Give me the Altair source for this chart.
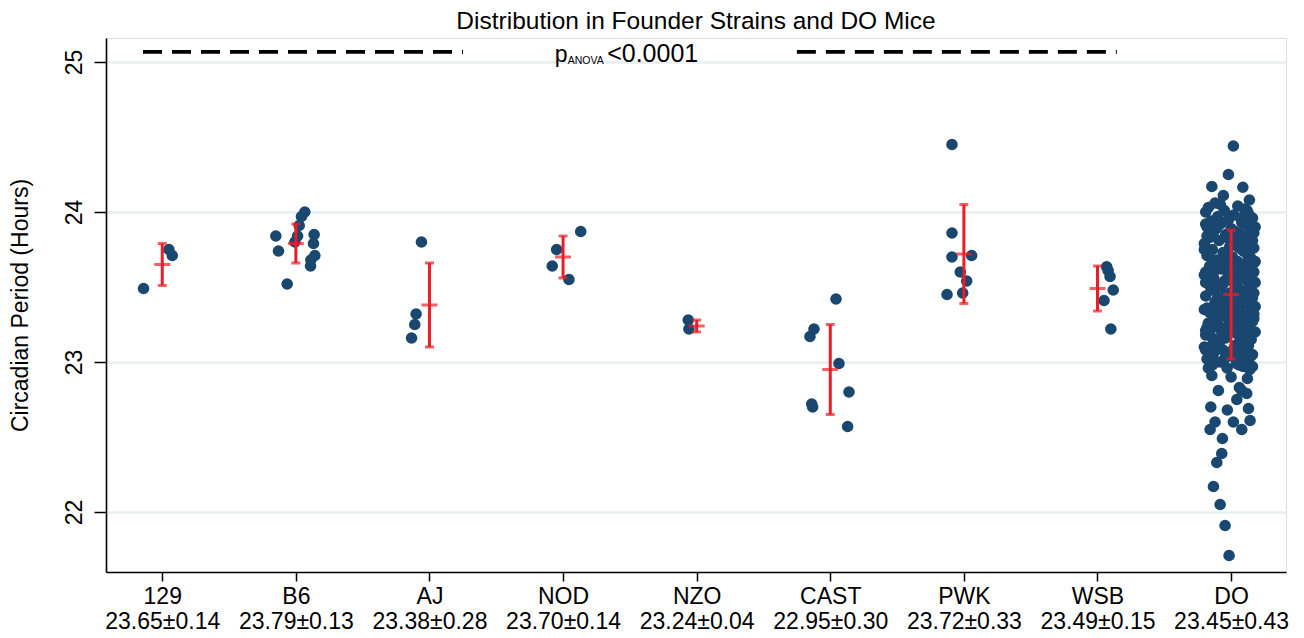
import json
import altair as alt
import pandas as pd

# ---------------- data ----------------
groups = ["129", "B6", "AJ", "NOD", "NZO", "CAST", "PWK", "WSB", "DO"]
means = [23.65, 23.79, 23.38, 23.70, 23.24, 22.95, 23.72, 23.49, 23.45]
sds = [0.14, 0.13, 0.28, 0.14, 0.04, 0.30, 0.33, 0.15, 0.43]

# circadian periods (hours) and horizontal jitter (in category units)
v_129 = [23.49, 23.75, 23.71]
j_129 = [-0.14, 0.05, 0.075]

v_b6 = [23.84, 23.74, 23.52, 24.00, 23.97, 23.91, 23.84, 23.80, 23.85, 23.79, 23.71, 23.68, 23.64]
j_b6 = [-0.15, -0.13, -0.065, 0.067, 0.042, 0.025, 0.013, -0.007, 0.137, 0.132, 0.142, 0.112, 0.11]

v_aj = [23.80, 23.32, 23.25, 23.16]
j_aj = [-0.06, -0.10, -0.11, -0.134]

v_nod = [23.87, 23.75, 23.64, 23.55]
j_nod = [0.132, -0.048, -0.081, 0.044]

v_nzo = [23.28, 23.22]
j_nzo = [-0.063, -0.058]

v_cast = [23.42, 23.22, 23.17, 22.99, 22.80, 22.72, 22.70, 22.57]
j_cast = [0.043, -0.122, -0.152, 0.065, 0.14, -0.139, -0.132, 0.13]

v_pwk = [24.45, 23.86, 23.70, 23.71, 23.60, 23.54, 23.45, 23.46]
j_pwk = [-0.089, -0.089, -0.089, 0.058, -0.027, 0.021, -0.126, -0.009]

v_wsb = [23.635, 23.61, 23.57, 23.48, 23.41, 23.22]
j_wsb = [0.069, 0.08, 0.094, 0.118, 0.049, 0.10]

v_do = [
    24.44, 24.25, 24.17, 24.165, 24.08, 24.11,
    21.71, 21.91, 22.05, 22.17, 22.33, 22.39, 22.49, 22.55, 22.60, 22.55, 22.61,
    22.60, 22.69, 22.70, 22.68, 22.75, 22.81, 22.81, 22.79, 22.91, 22.89, 22.90, 22.83,
    24.06, 24.04, 24.03, 24.02, 24.01, 24.00, 23.99, 23.98, 23.97, 23.96, 23.95, 23.94,
    23.93, 23.92, 23.91, 23.90, 23.89, 23.88, 23.87, 23.86, 23.85, 23.84, 23.83, 23.82,
    23.81, 23.80, 23.79, 23.78, 23.77, 23.76, 23.75, 23.74, 23.73, 23.72, 23.71, 23.70,
    23.69, 23.68, 23.67, 23.66, 23.65, 23.64, 23.63, 23.62, 23.61, 23.60, 23.59, 23.58,
    23.57, 23.56, 23.55, 23.54, 23.53, 23.52, 23.51, 23.50, 23.49, 23.48, 23.47, 23.46,
    23.45, 23.44, 23.43, 23.42, 23.41, 23.40, 23.39, 23.38, 23.37, 23.36, 23.35, 23.34,
    23.33, 23.32, 23.31, 23.30, 23.29, 23.28, 23.27, 23.26, 23.25, 23.24, 23.23, 23.22,
    23.21, 23.20, 23.19, 23.18, 23.17, 23.16, 23.15, 23.14, 23.13, 23.12, 23.11, 23.10,
    23.09, 23.08, 23.07, 23.06, 23.05, 23.04, 23.03, 23.02, 23.01, 23.00, 22.99, 22.98,
    22.97, 22.96, 22.95,
    23.87, 23.62, 23.55, 23.71, 23.44, 23.33, 23.28, 23.18, 23.66, 23.79, 23.93, 24.01,
    23.49, 23.58, 23.38, 23.12, 23.06, 23.21, 23.47, 23.52, 23.84, 23.76, 23.68, 23.41,
    23.31, 23.24, 23.14, 23.02, 22.97, 23.09, 23.36, 23.57, 23.63, 23.74, 23.89, 23.96,
    23.53, 23.45, 23.27, 23.16, 23.42, 23.59, 23.69, 23.81, 23.34, 23.22, 23.48, 23.61,
    23.39, 23.01,
    24.05, 23.98, 23.92, 23.86, 23.83, 23.77, 23.73, 23.70, 23.64, 23.60,
    23.56, 23.51, 23.46, 23.43, 23.40, 23.35, 23.32, 23.29, 23.26, 23.23,
    23.19, 23.15, 23.11, 23.08, 23.04, 23.00, 22.98, 22.96, 23.53, 23.67,
    23.75, 23.90, 23.37, 23.20, 23.10, 23.58, 23.80, 23.50, 23.25, 23.62,
]
j_do = [
    0.017, -0.02, -0.144, 0.088, 0.137, -0.058,
    -0.015, -0.045, -0.082, -0.132, -0.107, -0.07, -0.065, -0.157, -0.12, 0.08, 0.142,
    0.017, 0.13, -0.152, -0.028, 0.043, -0.095, 0.08, 0.117, -0.144, 0.122, 0.0, 0.062,
    -0.12, 0.05, -0.17, 0.10, -0.05, -0.19, 0.13, 0.02, -0.10, 0.16, -0.02, -0.15,
    0.08, -0.08, 0.12, -0.18, 0.00, 0.15, -0.13, 0.06, -0.04, 0.11, -0.16, 0.03,
    -0.09, 0.14, -0.20, 0.07, -0.01, 0.17, -0.14, 0.09, -0.06, 0.12, -0.18, 0.01,
    0.15, -0.11, 0.05, -0.03, 0.10, -0.16, 0.13, -0.07, 0.04, -0.19, 0.16, -0.02,
    0.08, -0.13, 0.11, -0.05, 0.02, -0.17, 0.14, -0.09, 0.06, -0.15, 0.12, -0.01,
    0.09, -0.19, 0.16, -0.06, 0.03, -0.12, 0.13, -0.03, 0.07, -0.18, 0.15, -0.08,
    0.01, -0.14, 0.10, -0.04, 0.17, -0.11, 0.05, -0.17, 0.12, -0.02, 0.08, -0.15,
    0.14, -0.07, 0.04, -0.19, 0.11, -0.04, 0.15, -0.12, 0.06, -0.09, 0.13, -0.16,
    0.02, -0.06, 0.10, -0.13, 0.16, -0.01, 0.07, -0.18, 0.12, -0.08, 0.04, -0.14,
    0.09, -0.03, 0.14,
    0.03, -0.10, 0.14, -0.02, 0.07, -0.16, 0.11, -0.04, 0.17, 0.09, -0.07, 0.12,
    -0.13, 0.00, 0.15, -0.11, 0.04, -0.19, 0.10, -0.06, -0.18, 0.06, -0.14, 0.01,
    0.08, -0.09, 0.13, -0.05, 0.16, -0.17, -0.01, 0.12, -0.08, 0.14, -0.11, 0.07,
    -0.19, -0.04, 0.16, -0.14, 0.11, 0.05, -0.05, 0.16, -0.12, 0.02, 0.13, -0.16,
    -0.08, 0.09,
    -0.08, 0.11, -0.19, 0.17, -0.03, 0.10, -0.17, 0.13, -0.01, 0.17,
    -0.18, 0.04, 0.17, -0.10, 0.06, -0.20, 0.17, -0.02, 0.09, -0.18,
    0.16, -0.08, 0.03, -0.19, 0.15, -0.11, 0.06, -0.17, 0.18, 0.18,
    -0.20, 0.18, 0.18, 0.18, -0.20, -0.20, 0.00, -0.11, 0.00, 0.06,
]

values_by_group = [v_129, v_b6, v_aj, v_nod, v_nzo, v_cast, v_pwk, v_wsb, v_do]
jitter_by_group = [j_129, j_b6, j_aj, j_nod, j_nzo, j_cast, j_pwk, j_wsb, j_do]

# annotation: dashed lines (category-index units, hours) and p-value text
dash_x1 = [0.856, 5.75]
dash_x2 = [3.251, 8.145]
dash_y = [25.067, 25.067]
p_text_x = [3.938, 4.035, 4.33]
p_text = ["p", "ANOVA", "<0.0001"]

# ---------------- tables ----------------
pts = []
for gi, (vals, jits) in enumerate(zip(values_by_group, jitter_by_group)):
    for v, j in zip(vals, jits):
        pts.append({"grp": groups[gi], "x": gi + 1 + j, "y": v})
df_pts = pd.DataFrame(pts)

df_err = pd.DataFrame({
    "x": list(range(1, len(groups) + 1)),
    "y": means,
    "lo": [m - s for m, s in zip(means, sds)],
    "hi": [m + s for m, s in zip(means, sds)],
})

df_dash = pd.DataFrame({"x": dash_x1, "x2": dash_x2, "y": dash_y})

stats = [f"{m:.2f}\u00b1{s:.2f}" for m, s in zip(means, sds)]
label_expr = (
    f"[{json.dumps(groups)}[datum.value - 1], {json.dumps(stats)}[datum.value - 1]]"
)

FONT = "Liberation Sans"
NAVY = "#1a476f"
RED = "#ee1c25"
FS = 23

xs = alt.Scale(domain=[0.579, 9.411], nice=False, zero=False)
ys = alt.Scale(domain=[21.6, 25.16], nice=False, zero=False)

x_axis = alt.Axis(
    values=list(range(1, 10)), labelExpr=label_expr, title=None, grid=False,
    tickSize=9, tickWidth=1.5, tickColor="black", domainColor="black", domainWidth=1.6,
    labelFontSize=FS, labelLineHeight=25, labelPadding=4, labelColor="black",
    labelFont=FONT, labelOverlap=False, labelFlush=False,
)
y_axis = alt.Axis(
    values=[22, 23, 24, 25], title="Circadian Period (Hours)", grid=True,
    gridColor="#e7eff2", gridWidth=2.5,
    tickSize=12, tickWidth=1.5, tickColor="black", domainColor="black", domainWidth=1.6,
    labelFontSize=FS, labelAngle=270, labelAlign="center", labelBaseline="bottom",
    labelPadding=8, labelColor="black", labelFont=FONT,
    titleFont=FONT, titleFontSize=FS, titleFontWeight="normal", titleColor="black",
    titleX=-86, titleY=267, titleAngle=270, titleAlign="center", titleBaseline="middle",
)


def X(field):
    return alt.X(field, scale=xs, axis=x_axis)


def Y(field):
    return alt.Y(field, scale=ys, axis=y_axis)


points = alt.Chart(df_pts).mark_circle(size=135, color=NAVY, opacity=1).encode(
    x=X("x:Q"), y=Y("y:Q"),
)

rules = alt.Chart(df_err).mark_rule(color=RED, strokeWidth=3).encode(
    x=X("x:Q"), y=Y("lo:Q"), y2="hi:Q",
)
cap_hi = alt.Chart(df_err).mark_tick(orient="horizontal", size=9, thickness=3, color=RED).encode(
    x=X("x:Q"), y=Y("hi:Q")
)
cap_lo = alt.Chart(df_err).mark_tick(orient="horizontal", size=9, thickness=3, color=RED).encode(
    x=X("x:Q"), y=Y("lo:Q")
)
mean_tick = alt.Chart(df_err).mark_tick(orient="horizontal", size=16, thickness=3, color=RED).encode(
    x=X("x:Q"), y=Y("y:Q")
)

dashes = alt.Chart(df_dash).mark_rule(color="black", strokeWidth=3.8, strokeDash=[19, 10]).encode(
    x=X("x:Q"), x2="x2:Q", y=Y("y:Q")
)

df_p = pd.DataFrame({"x": [p_text_x[0]], "y": [25.0], "t": [p_text[0]]})
df_a = pd.DataFrame({"x": [p_text_x[1]], "y": [25.0], "t": [p_text[1]]})
df_v = pd.DataFrame({"x": [p_text_x[2]], "y": [25.0], "t": [p_text[2]]})

txt_p = alt.Chart(df_p).mark_text(font=FONT, fontSize=FS, align="left", baseline="alphabetic", color="black").encode(
    x=X("x:Q"), y=Y("y:Q"), text="t:N")
txt_a = alt.Chart(df_a).mark_text(font=FONT, fontSize=10.5, align="left", baseline="alphabetic", dy=2, color="black").encode(
    x=X("x:Q"), y=Y("y:Q"), text="t:N")
txt_v = alt.Chart(df_v).mark_text(font=FONT, fontSize=25, align="left", baseline="alphabetic", color="black").encode(
    x=X("x:Q"), y=Y("y:Q"), text="t:N")

chart = alt.layer(points, rules, cap_hi, cap_lo, mean_tick, dashes, txt_p, txt_a, txt_v).properties(
    width=1180,
    height=534,
    title=alt.TitleParams(
        "Distribution in Founder Strains and DO Mice", font=FONT, fontSize=24.5,
        fontWeight="normal", color="black", anchor="middle", frame="group", offset=4,
    ),
    autosize=alt.AutoSizeParams(type="none"),
    padding={"left": 98, "top": 30, "right": 10, "bottom": 64},
).configure_view(strokeWidth=0).configure(background="white")

chart.save("out.html", embed_options={"renderer": "svg", "actions": False})
